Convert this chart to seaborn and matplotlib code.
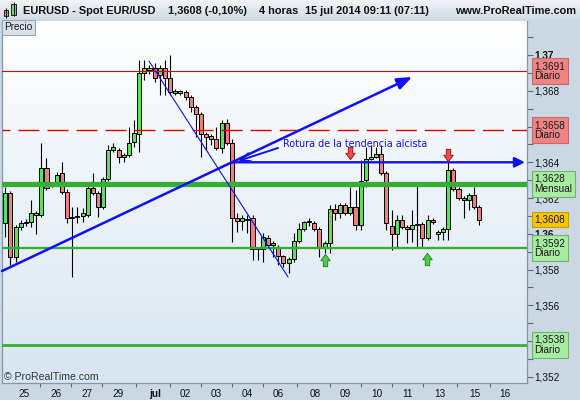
import numpy as np
import pandas as pd
import matplotlib
matplotlib.use("Agg")
import matplotlib.pyplot as plt
import seaborn as sns
from matplotlib.colors import LinearSegmentedColormap
from matplotlib.path import Path
from matplotlib.patches import Rectangle
import matplotlib.transforms as mtransforms

# ---------------- data (EURUSD 4h candles) ----------------
open_ = [1.36060, 1.36228, 1.35870, 1.36038, 1.36060, 1.36066, 1.36116, 1.36105, 1.36368, 1.36273,
         1.36290, 1.36340, 1.36234, 1.36094, 1.36094, 1.36100, 1.36105, 1.36256, 1.36228, 1.36150,
         1.36306, 1.36469, 1.36469, 1.36429, 1.36441, 1.36513, 1.36558, 1.36899, 1.36916, 1.36927,
         1.36888, 1.36927, 1.36871, 1.36787, 1.36787, 1.36793, 1.36765, 1.36709, 1.36670, 1.36558,
         1.36547, 1.36530, 1.36480, 1.36619, 1.36508, 1.36088, 1.36072, 1.36083, 1.36088, 1.35915,
         1.35915, 1.35977, 1.35937, 1.35921, 1.35876, 1.35837, 1.35859, 1.35960, 1.36027, 1.36066,
         1.36060, 1.36027, 1.35921, 1.35949, 1.36139, 1.36116, 1.36161, 1.36116, 1.36150, 1.36049,
         1.36301, 1.36418, 1.36429, 1.36446, 1.36340, 1.36044, 1.35999, 1.36077, 1.36038, 1.36027,
         1.36049, 1.36055, 1.35977, 1.36077, 1.35999, 1.36010, 1.36027, 1.36357, 1.36251, 1.36200,
         1.36189, 1.36217, 1.36150]
high = [1.36262, 1.36239, 1.36049, 1.36077, 1.36083, 1.36189, 1.36128, 1.36508, 1.36424, 1.36290,
        1.36346, 1.36401, 1.36251, 1.36150, 1.36150, 1.36144, 1.36290, 1.36340, 1.36239, 1.36318,
        1.36496, 1.36508, 1.36480, 1.36452, 1.36597, 1.36636, 1.36972, 1.36972, 1.36944, 1.36955,
        1.36944, 1.36972, 1.37000, 1.36810, 1.36804, 1.36804, 1.36776, 1.36720, 1.36681, 1.36569,
        1.36558, 1.36597, 1.36636, 1.36642, 1.36530, 1.36116, 1.36105, 1.36105, 1.36105, 1.35926,
        1.36005, 1.35993, 1.35960, 1.35937, 1.35882, 1.35870, 1.36005, 1.36060, 1.36072, 1.36088,
        1.36072, 1.36038, 1.35960, 1.36161, 1.36167, 1.36172, 1.36172, 1.36262, 1.36245, 1.36413,
        1.36485, 1.36496, 1.36485, 1.36496, 1.36351, 1.36133, 1.36105, 1.36105, 1.36049, 1.36133,
        1.36273, 1.36066, 1.36105, 1.36088, 1.36021, 1.36038, 1.36413, 1.36368, 1.36262, 1.36211,
        1.36228, 1.36262, 1.36161]
low = [1.35982, 1.35826, 1.35842, 1.36021, 1.36044, 1.36038, 1.35999, 1.36094, 1.36245, 1.36262,
       1.36273, 1.36223, 1.36060, 1.35759, 1.36060, 1.36066, 1.36094, 1.36217, 1.36094, 1.36139,
       1.36295, 1.36457, 1.36396, 1.36401, 1.36429, 1.36485, 1.36457, 1.36860, 1.36893, 1.36849,
       1.36776, 1.36776, 1.36776, 1.36776, 1.36776, 1.36748, 1.36681, 1.36541, 1.36429, 1.36469,
       1.36496, 1.36469, 1.36452, 1.36496, 1.35954, 1.36010, 1.36021, 1.36005, 1.35854, 1.35854,
       1.35842, 1.35921, 1.35870, 1.35826, 1.35815, 1.35781, 1.35842, 1.35949, 1.36016, 1.36044,
       1.36016, 1.35870, 1.35893, 1.35893, 1.36077, 1.36088, 1.36105, 1.36105, 1.36021, 1.36021,
       1.36262, 1.36413, 1.36424, 1.36329, 1.36021, 1.35910, 1.35926, 1.36027, 1.35949, 1.35954,
       1.35926, 1.35926, 1.35965, 1.36055, 1.35965, 1.35965, 1.35965, 1.36239, 1.36189, 1.36088,
       1.36133, 1.36139, 1.36049]
close = [1.36228, 1.35870, 1.36038, 1.36060, 1.36066, 1.36116, 1.36105, 1.36368, 1.36256, 1.36276,
         1.36329, 1.36234, 1.36088, 1.36088, 1.36100, 1.36116, 1.36256, 1.36228, 1.36150, 1.36306,
         1.36469, 1.36485, 1.36429, 1.36441, 1.36508, 1.36564, 1.36899, 1.36927, 1.36927, 1.36871,
         1.36927, 1.36871, 1.36793, 1.36798, 1.36798, 1.36765, 1.36709, 1.36670, 1.36558, 1.36541,
         1.36530, 1.36480, 1.36619, 1.36508, 1.36088, 1.36072, 1.36088, 1.36077, 1.35915, 1.35921,
         1.35982, 1.35937, 1.35949, 1.35876, 1.35837, 1.35859, 1.35960, 1.36027, 1.36066, 1.36072,
         1.36027, 1.35921, 1.35949, 1.36139, 1.36116, 1.36161, 1.36116, 1.36150, 1.36049, 1.36295,
         1.36418, 1.36429, 1.36446, 1.36340, 1.36060, 1.35999, 1.36077, 1.36038, 1.36027, 1.36049,
         1.36055, 1.35977, 1.36077, 1.36066, 1.36010, 1.36027, 1.36357, 1.36251, 1.36200, 1.36189,
         1.36217, 1.36150, 1.36077]
bar_index = list(range(len(close)))

day_ticks = [3.7, 9.8, 15.9, 21.8, 29.0, 34.9, 41.0, 47.0, 53.0, 60.1, 66.1, 72.1, 78.1, 84.3, 91.2, 97.1]
day_labels = ["25", "26", "27", "29", "jul", "02", "03", "04", "06", "08", "09", "10", "11", "13", "15", "16"]

price_ticks = [1.352, 1.354, 1.356, 1.358, 1.360, 1.362, 1.364, 1.366, 1.368, 1.370]
# 1,354 and 1,366 sit fully under the value boxes in the reference
price_tick_labels = ["1,352", "", "1,356", "1,358", "1,36", "1,362", "1,364", "", "1,368", "1,37"]
price_minor = [1.353, 1.355, 1.357, 1.359, 1.361, 1.363, 1.365, 1.367, 1.369, 1.371]

# support / resistance levels
resist_solid = 1.3691
resist_dashed = 1.3658
support_monthly = 1.3628
support_daily = [1.3592, 1.3538]
break_level = 1.3640

box_values = [1.3691, 1.3658, 1.3628, 1.3608, 1.3592, 1.3538]
box_texts = ["1,3691\nDiario", "1,3658\nDiario", "1,3628\nMensual", "1,3608", "1,3592\nDiario", "1,3538\nDiario"]
box_kinds = ["res", "res", "sup", "last", "sup", "sup"]

trend_up_x = [-0.64, 79.0]
trend_up_y = [1.35792, 1.36877]
trend_down_x = [27.9, 54.9]
trend_down_y = [1.36966, 1.35759]
break_x = [44.0, 100.9]
note_text = "Rotura de la tendencia alcista"
note_pos = (53.9, 1.36488)
note_arrow_from = (52.95, 1.36480)
note_arrow_to = (45.2, 1.36407)

sell_x = [66.9, 86.0]
sell_y = [1.36452, 1.36441]
buy_x = [62.1, 81.9]
buy_y = [1.35856, 1.35862]

# ---------------- style ----------------
GREEN = "#5ee05e"
RED = "#ea8080"
GREEN_LINE = "#36ae36"
RED_LINE = "#e00000"
BLUE = "#1010ff"
PANEL = "#c9d8e3"

sns.set_style("white")
plt.rcParams["font.family"] = ["Liberation Sans", "DejaVu Sans"]
plt.rcParams["lines.scale_dashes"] = False

W, H = 580, 400
fig = plt.figure(figsize=(5.8, 4.0), dpi=100, facecolor=PANEL)


def fx(px):
    return px / W


def fy(py):
    return 1 - py / H


ax = fig.add_axes([fx(2), fy(383), fx(527) - fx(2), fy(21) - fy(383)])
ax.set_facecolor("white")

# gradient background
grad = np.linspace(0, 1, 256).reshape(-1, 1)
bg_cmap = LinearSegmentedColormap.from_list("bg", ["#ffffff", "#d8e6f1"])
ax.imshow(grad, cmap=bg_cmap, extent=[0, 1, 0, 1], transform=ax.transAxes,
          aspect="auto", zorder=-10, interpolation="bilinear")

df = pd.DataFrame({"bar": bar_index, "open": open_, "high": high, "low": low, "close": close})
df["body"] = (df["close"] - df["open"]).abs().clip(lower=0.00004)
df["bottom"] = df[["open", "close"]].min(axis=1)
df["up"] = df["close"] >= df["open"]

# wicks
ax.vlines(df["bar"], df["low"], df["high"], color="black", lw=0.8, zorder=2.5)
# bodies through seaborn
sns.barplot(data=df, x="bar", y="body", native_scale=True, orient="x", errorbar=None,
            width=0.78, bottom=df["bottom"].to_numpy(), edgecolor="black", linewidth=0.7,
            color=GREEN, saturation=1, ax=ax, zorder=3)
for patch, up in zip(ax.patches, df["up"]):
    patch.set_facecolor(GREEN if up else RED)

# horizontal levels
ax.axhline(resist_solid, color=RED_LINE, lw=0.8, zorder=4)
ax.axhline(resist_dashed, color=RED_LINE, lw=1.0, ls=(9.4, (15.1, 5.8)), zorder=4)
ax.axhline(support_monthly, color=GREEN_LINE, lw=3.8, zorder=4)
ax.axhline(support_daily[0], color=GREEN_LINE, lw=1.7, zorder=4)
ax.axhline(support_daily[1], color=GREEN_LINE, lw=2.0, zorder=4)

# trend lines
ax.plot(trend_down_x, trend_down_y, color=BLUE, lw=0.8, zorder=5)
ax.annotate("", xy=(trend_up_x[1], trend_up_y[1]), xytext=(trend_up_x[0], trend_up_y[0]),
            arrowprops=dict(arrowstyle="-|>,head_length=0.9,head_width=0.35", color=BLUE,
                            lw=1.8, shrinkA=0, shrinkB=0, mutation_scale=10), zorder=5)
ax.annotate("", xy=(break_x[1], break_level), xytext=(break_x[0], break_level),
            arrowprops=dict(arrowstyle="-|>,head_length=0.6,head_width=0.3", color=BLUE,
                            lw=1.7, shrinkA=0, shrinkB=0, mutation_scale=10), zorder=5)
ax.annotate("", xy=note_arrow_to, xytext=note_arrow_from,
            arrowprops=dict(arrowstyle="->,head_length=0.7,head_width=0.3", color=BLUE,
                            lw=1.4, shrinkA=0, shrinkB=0, mutation_scale=10), zorder=5)
ax.text(note_pos[0], note_pos[1], note_text, color=BLUE, fontsize=6.9,
        family=["DejaVu Sans"], va="baseline", ha="left", zorder=6)

# signal arrows
down_arrow = Path([(-0.18, 0.5), (0.18, 0.5), (0.18, 0.02), (0.38, 0.02), (0.0, -0.5),
                   (-0.38, 0.02), (-0.18, 0.02), (-0.18, 0.5)], closed=True)
up_arrow = Path([(-0.18, -0.5), (0.18, -0.5), (0.18, -0.02), (0.38, -0.02), (0.0, 0.5),
                 (-0.38, -0.02), (-0.18, -0.02), (-0.18, -0.5)], closed=True)
sns.scatterplot(x=sell_x, y=sell_y, marker=down_arrow, s=80, color="#e85050",
                edgecolor="#b00000", linewidth=0.6, ax=ax, zorder=7, legend=False)
sns.scatterplot(x=buy_x, y=buy_y, marker=up_arrow, s=80, color="#4ccc4c",
                edgecolor="#188018", linewidth=0.6, ax=ax, zorder=7, legend=False)

# axes limits
ax.set_xlim(-0.64, 101.3)
ax.set_ylim(1.35166, 1.37190)
ax.set_xlabel("")
ax.set_ylabel("")

# y axis on the right
ax.yaxis.tick_right()
ax.set_yticks(price_ticks, labels=price_tick_labels)
ax.set_yticks(price_minor, minor=True)
ax.tick_params(axis="y", which="both", direction="out", length=4, width=0.8,
               color="#5a6a78", labelsize=7.2, labelcolor="#111111", pad=1.5,
               left=False, right=True)
for lab in ax.get_yticklabels():
    if lab.get_text() in ("1,37", "1,36"):
        lab.set_fontweight("bold")

# x axis
mids = [(a + b) / 2 for a, b in zip(day_ticks[:-1], day_ticks[1:])]
ax.set_xticks(day_ticks, labels=day_labels)
ax.set_xticks(mids, minor=True)
ax.tick_params(axis="x", which="major", length=0, pad=4, labelsize=7.2, labelcolor="#111111")
ax.tick_params(axis="x", which="minor", length=3, width=0.8, color="#5a6a78", direction="out",
               bottom=True)
for lab in ax.get_xticklabels():
    if lab.get_text() == "jul":
        lab.set_fontweight("bold")

ax.spines["top"].set_visible(False)
for s in ("left", "right", "bottom"):
    ax.spines[s].set_color("#8696a4")
    ax.spines[s].set_linewidth(0.9)

# value boxes on the price axis
box_style = {
    "res": dict(fc="#f08484", ec="#c86a6a"),
    "sup": dict(fc="#a8eca2", ec="#72b46e"),
    "last": dict(fc="#f8c400", ec="#c89c00"),
}
trans = mtransforms.blended_transform_factory(ax.transAxes, ax.transData)
for v, txt, kind in zip(box_values, box_texts, box_kinds):
    ax.text(1 + 7.5 / 525, v, txt, transform=trans, ha="left", va="center", fontsize=7.2,
            color="#1a1a1a", linespacing=1.0, clip_on=False, zorder=10,
            bbox=dict(boxstyle="square,pad=0.28", lw=0.8, **box_style[kind]))

ax.text(2 / 525, 0.017, "\u00a9 ProRealTime.com", transform=ax.transAxes, fontsize=7.6,
        color="#333333", va="center", ha="left", zorder=6)

# "Precio" tag
fig.text(fx(4.5), fy(27.5), "Precio", fontsize=7.2, color="#1a1a1a", ha="left", va="center",
         bbox=dict(boxstyle="square,pad=0.25", fc="#d9e1e8", ec="#97a6b2", lw=0.8))

# title bar
tb = fig.add_axes([0, fy(20), 1, 20 / H])
tb_cmap = LinearSegmentedColormap.from_list("tb", ["#f1f4f7", "#cfdbe4"])
tb.imshow(grad, cmap=tb_cmap, extent=[0, W, 20, 0], aspect="auto", interpolation="bilinear")
tb.set_xlim(0, W)
tb.set_ylim(20, 0)
tb.axis("off")
tb.axhline(19.6, color="#97a6b2", lw=0.8)
# icon
tb.vlines([5.5, 13.5], [7.5, 2.0], [18.0, 16.0], color="black", lw=0.7)
tb.add_patch(Rectangle((3.5, 10), 4, 6, fc=RED, ec="black", lw=0.6))
tb.add_patch(Rectangle((11.2, 4), 4.6, 10.5, fc=GREEN, ec="black", lw=0.6))
title_kw = dict(fontsize=7.9, fontweight="bold", color="#111111", va="center")
tb.text(23, 10.5, "EURUSD - Spot EUR/USD", ha="left", **title_kw)
tb.text(168, 10.5, "1,3608 (-0,10%)", ha="left", **title_kw)
tb.text(259, 10.5, "4 horas", ha="left", **title_kw)
tb.text(305, 10.5, "15 jul 2014 09:11 (07:11)", ha="left", **title_kw)
tb.text(576, 10.5, "www.ProRealTime.com", ha="right", **title_kw)

fig.savefig("out.png", dpi=100, facecolor=PANEL)
